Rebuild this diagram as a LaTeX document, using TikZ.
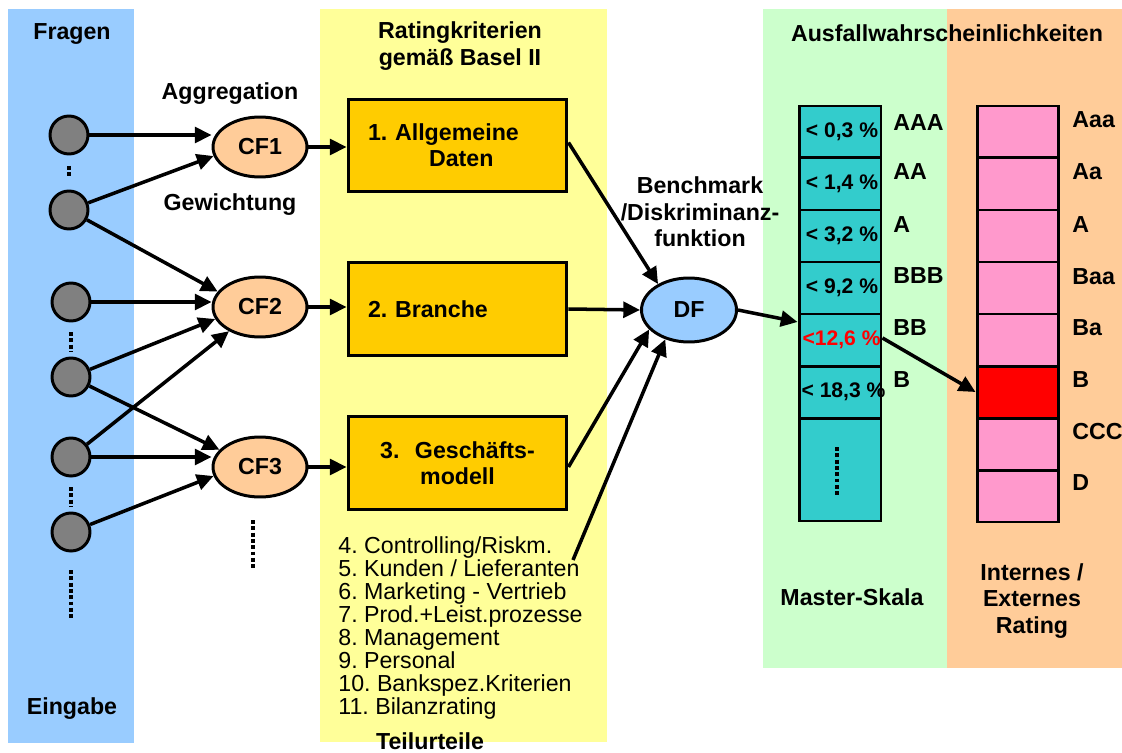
\documentclass[tikz,border=0pt]{standalone}
\usepackage{fontspec}
\setmainfont{Liberation Sans}
\usetikzlibrary{arrows.meta,shapes.geometric}
\definecolor{bgblue}{HTML}{99CCFF}
\definecolor{bgyellow}{HTML}{FFFF99}
\definecolor{bggreen}{HTML}{CCFFCC}
\definecolor{bgorange}{HTML}{FFCC99}
\definecolor{boxfill}{HTML}{FFCC00}
\definecolor{cffill}{HTML}{FFCC99}
\definecolor{dffill}{HTML}{99CCFF}
\definecolor{qgray}{HTML}{808080}
\definecolor{mscol}{HTML}{33CCCC}
\definecolor{rtcol}{HTML}{FF99CC}
\definecolor{rtred}{HTML}{FF0000}
\frenchspacing
\newcommand{\celltxt}[2][2.3pt]{\makebox[0pt]{\hspace*{#1}\raisebox{1.8pt}{\fontsize{12}{14}\selectfont #2}}}
\begin{document}
\begin{tikzpicture}[x=0.02cm,y=-0.02cm,
  font=\fontsize{13.2}{15}\selectfont\bfseries,
  arr/.style={line width=2pt,-{Triangle[length=9.5pt,width=9pt]}},
  qnode/.style={circle,draw,line width=1.7pt,fill=qgray,minimum size=0.76cm,inner sep=0pt},
  cfnode/.style={ellipse,draw,line width=1.7pt,fill=cffill,minimum width=1.88cm,minimum height=1.2cm,inner sep=0pt},
  crit/.style={draw,line width=1.7pt,fill=boxfill,minimum width=4.38cm,minimum height=1.86cm,inner xsep=0.4cm,text width=3.58cm},
  mcell/.style={draw,line width=1.7pt,fill=mscol,minimum width=1.64cm,minimum height=1.04cm,inner sep=0pt},
  rcell/.style={draw,line width=1.7pt,fill=rtcol,minimum width=1.62cm,minimum height=1.04cm,inner sep=0pt},
  lbl/.style={inner sep=0pt,align=center},
  dots/.style={line width=2.3pt,dash pattern=on 2.2pt off 1.4pt}
]
\useasboundingbox (0,0) rectangle (1122,753);
% backgrounds
\fill[bgblue] (8,9) rectangle (134,743);
\fill[bgyellow] (320,9) rectangle (607,742);
\fill[bggreen] (763,9) rectangle (947,668);
\fill[bgorange] (947,9) rectangle (1122,668);

% headings
\node[lbl] (tFragen) at (72,34) {Fragen};
\node[lbl] (tEingabe) at (72,709) {Eingabe};
\node[lbl] (tAgg) at (230,94) {Aggregation};
\node[lbl] (tGew) at (230,205) {Gewichtung};
\node[lbl] (tRating) at (460,46) {Ratingkriterien\\gemäß Basel II};
\node[lbl] (tTeil) at (430,741) {Teilurteile};
\node[lbl] (tBench) at (700,212) {Benchmark\\/Diskriminanz-\\funktion};
\node[lbl] (tAusf) at (947,33) {Ausfallwahrscheinlichkeiten};
\node[lbl] (tMaster) at (852,597) {Master-Skala};
\node[lbl] (tIntern) at (1032,601) {Internes /\\Externes\\Rating};

% question nodes
\node[qnode] (c1) at (69,135) {};
\node[qnode] (c2) at (69,210) {};
\node[qnode] (c3) at (71,302) {};
\node[qnode] (c4) at (71,377) {};
\node[qnode] (c5) at (71,457) {};
\node[qnode] (c6) at (71,532) {};
\draw[dots] (69,166) -- (69,178);
\draw[dots] (71,332) -- (71,352);
\draw[dots] (71,487) -- (71,507);
\draw[dots] (71,570) -- (71,620);
\draw[dots] (253,520) -- (253,570);

% CF nodes
\node[cfnode] (CF1) at (260,147) {CF1};
\node[cfnode] (CF2) at (260,307) {CF2};
\node[cfnode] (CF3) at (260,467) {CF3};

% criteria boxes
\node[crit,align=left] (b1) at (457.5,145.5) {1. Allgemeine\\\hspace*{1.22cm}Daten};
\node[crit,align=left] (b2) at (457.5,309) {2. Branche};
\node[crit,align=center] (b3) at (457.5,463) {3.\ \ Geschäfts-\\modell};

% list
\node[anchor=north west,inner sep=0pt,align=left,font=\fontsize{13.2}{13.1}\selectfont] (list) at (338,536)
 {4. Controlling/Riskm.\\5. Kunden / Lieferanten\\6. Marketing - Vertrieb\\7. Prod.+Leist.prozesse\\8. Management\\9. Personal\\10. Bankspez.Kriterien\\11. Bilanzrating};
\coordinate (lst) at (573,560);

% DF
\node[ellipse,draw,line width=1.7pt,fill=dffill,minimum width=1.9cm,minimum height=1.28cm,inner sep=0pt] (DF) at (689,310) {DF};

% master scale
\node[mcell] (ms1) at (840,132) {\celltxt{< 0,3 \%}};
\node[mcell] (ms2) at (840,184) {\celltxt{< 1,4 \%}};
\node[mcell] (ms3) at (840,236) {\celltxt{< 3,2 \%}};
\node[mcell] (ms4) at (840,288) {\celltxt{< 9,2 \%}};
\node[mcell] (ms5) at (840,340) {\celltxt[1.8pt]{\textcolor{rtred}{<12,6 \%}}};
\node[mcell] (ms6) at (840,392) {\celltxt[4pt]{< 18,3 \%}};
\node[mcell,minimum height=2.06cm] (ms7) at (840,469.5) {};
\draw[dots] (837,447) -- (837,497);

\foreach \t/\y/\n in {AAA/123/1,AA/172/2,A/225/3,BBB/276/4,BB/328/5,B/380/6}
  \node[anchor=west,inner sep=0pt] (ml\n) at (893,\y) {\t};

% rating scale
\node[rcell] (rt1) at (1017.5,132) {};
\node[rcell] (rt2) at (1017.5,184) {};
\node[rcell] (rt3) at (1017.5,236) {};
\node[rcell] (rt4) at (1017.5,288) {};
\node[rcell] (rt5) at (1017.5,340) {};
\node[rcell,fill=rtred] (rt6) at (1017.5,392) {};
\node[rcell] (rt7) at (1017.5,444) {};
\node[rcell] (rt8) at (1017.5,496) {};
\foreach \t/\y/\n in {Aaa/120/1,Aa/172/2,A/225/3,Baa/277/4,Ba/328/5,B/380/6,CCC/432/7,D/483/8}
  \node[anchor=west,inner sep=0pt] (rl\n) at (1072,\y) {\t};

% connectors: questions -> CF
\draw[arr] (c1.east) -- (c1.east -| CF1.west);
\draw[arr] (c2) -- (CF1.191);
\draw[arr] (c2) -- (CF2.160);
\draw[arr] (c3.east) -- (c3.east -| CF2.west);
\draw[arr] (c4) -- (CF2.195);
\draw[arr] (c5) -- (CF2.218);
\draw[arr] (c4) -- (CF3.157);
\draw[arr] (c5.east) -- (c5.east -| CF3.west);
\draw[arr] (c6) -- (CF3.191);

% CF -> boxes
\draw[arr] (CF1.east) -- (CF1.east -| b1.west);
\draw[arr] (CF2.east) -- (CF2.east -| b2.west);
\draw[arr] (CF3.east) -- (CF3.east -| b3.west);

% boxes -> DF
\draw[arr] ([yshift=0.06cm]b1.east) -- (DF.140);
\draw[arr] (b2.east) -- (DF.west);
\draw[arr] ([yshift=-0.08cm]b3.east) -- (DF.206);
\draw[arr] (lst) -- (DF.231);

% DF -> master, master -> rating
\draw[arr] (DF.east) -- (ms5.157);
\draw[arr] ([yshift=0.04cm]ms5.east) -- (rt6.west);
\end{tikzpicture}
\end{document}
